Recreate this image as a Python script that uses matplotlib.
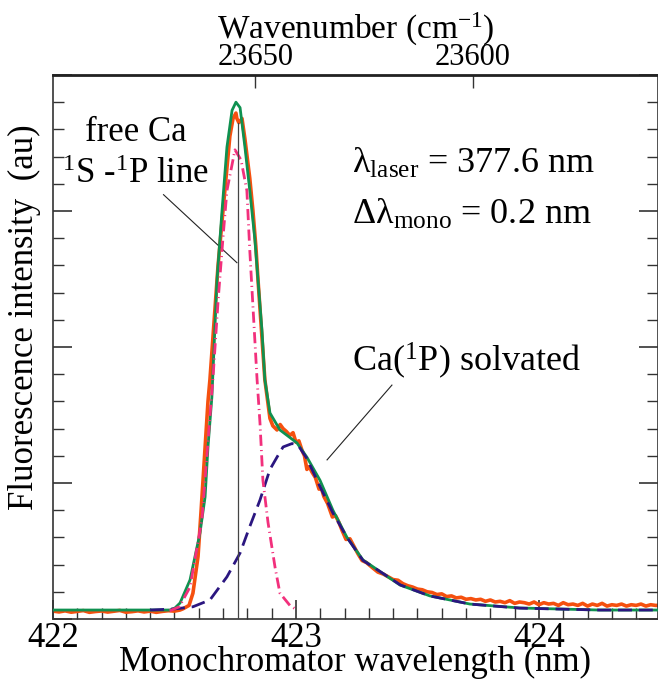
import matplotlib
matplotlib.use("Agg")
import matplotlib.pyplot as plt
from matplotlib.ticker import MultipleLocator, FixedLocator

plt.rcParams['font.family'] = ['Liberation Serif', 'DejaVu Serif']
plt.rcParams['mathtext.fontset'] = 'custom'
plt.rcParams['mathtext.rm'] = 'Liberation Serif'
plt.rcParams['mathtext.it'] = 'Liberation Serif'
plt.rcParams['mathtext.bf'] = 'Liberation Serif'

# measured spectrum (orange)
x_meas = [422.000, 422.025, 422.050, 422.075, 422.100, 422.125, 422.150, 422.175, 422.200, 422.225,
          422.250, 422.275, 422.300, 422.325, 422.350, 422.375, 422.400, 422.425, 422.450, 422.475,
          422.500, 422.523, 422.535, 422.560, 422.576, 422.597, 422.609, 422.626, 422.638, 422.646,
          422.679, 422.695, 422.712, 422.728, 422.741, 422.753, 422.757, 422.765, 422.778, 422.790,
          422.810, 422.823, 422.835, 422.844, 422.872, 422.893, 422.905, 422.922, 422.935, 422.947,
          422.960, 422.975, 422.988, 423.000, 423.012, 423.025, 423.035, 423.045, 423.055, 423.066,
          423.080, 423.095, 423.105, 423.115, 423.130, 423.150, 423.163, 423.177, 423.190, 423.206,
          423.222, 423.240, 423.255, 423.272, 423.290, 423.313, 423.337,
          423.36, 423.38, 423.40, 423.42, 423.44, 423.46, 423.48, 423.50, 423.52, 423.54,
          423.56, 423.58, 423.60, 423.62, 423.64, 423.66, 423.68, 423.70, 423.72, 423.74,
          423.76, 423.78, 423.80, 423.82, 423.84, 423.86, 423.88, 423.90, 423.92, 423.94,
          423.96, 423.98, 424.00, 424.02, 424.04, 424.06, 424.08, 424.10, 424.12, 424.14,
          424.16, 424.18, 424.20, 424.22, 424.24, 424.26, 424.28, 424.30, 424.32, 424.34,
          424.36, 424.38, 424.40, 424.42, 424.44, 424.46, 424.48, 424.50]
y_meas = [0.058, 0.052, 0.060, 0.050, 0.056, 0.062, 0.049, 0.055, 0.059, 0.051,
          0.057, 0.063, 0.050, 0.054, 0.060, 0.052, 0.058, 0.049, 0.056, 0.061,
          0.058, 0.066, 0.075, 0.100, 0.190, 0.460, 0.780, 1.260, 1.600, 1.760,
          2.590, 2.910, 3.240, 3.550, 3.680, 3.720, 3.680, 3.650, 3.680, 3.530,
          3.240, 3.000, 2.740, 2.490, 1.760, 1.475, 1.420, 1.390, 1.430, 1.400,
          1.380, 1.350, 1.370, 1.300, 1.310, 1.240, 1.200, 1.100, 1.120, 1.080,
          1.040, 0.955, 0.960, 0.900, 0.850, 0.750, 0.760, 0.710, 0.650, 0.585,
          0.590, 0.530, 0.480, 0.430, 0.415, 0.380, 0.345,
          0.330, 0.310, 0.290, 0.285, 0.260, 0.245, 0.235, 0.220, 0.215, 0.200,
          0.195, 0.180, 0.185, 0.165, 0.170, 0.155, 0.160, 0.145, 0.150, 0.140,
          0.145, 0.130, 0.140, 0.125, 0.130, 0.120, 0.135, 0.115, 0.125, 0.120,
          0.110, 0.125, 0.105, 0.120, 0.110, 0.115, 0.100, 0.120, 0.105, 0.110,
          0.100, 0.115, 0.095, 0.110, 0.100, 0.115, 0.095, 0.105, 0.100, 0.110,
          0.095, 0.105, 0.100, 0.110, 0.095, 0.105, 0.100, 0.100]

# total fit (green)
x_fit = [422.000, 422.481, 422.502, 422.523, 422.564, 422.605, 422.626, 422.638, 422.654, 422.675,
         422.695, 422.716, 422.737, 422.753, 422.770, 422.790, 422.810, 422.831, 422.844, 422.860,
         422.872, 422.893, 422.934, 423.004, 423.045, 423.099, 423.152, 423.210, 423.276, 423.337,
         423.428, 423.551, 423.716, 423.922, 424.250, 424.500]
y_fit = [0.066, 0.066, 0.081, 0.118, 0.287, 0.632, 0.897, 1.265, 1.632, 2.490,
         2.985, 3.470, 3.740, 3.800, 3.760, 3.470, 3.150, 2.790, 2.490, 2.125,
         1.760, 1.515, 1.390, 1.295, 1.190, 1.020, 0.800, 0.600, 0.434, 0.360,
         0.250, 0.170, 0.110, 0.081, 0.066, 0.066]

# free Ca line component (pink)
x_free = [422.480, 422.520, 422.564, 422.613, 422.658, 422.680, 422.700, 422.716, 422.749, 422.774,
          422.798, 422.810, 422.840, 422.852, 422.864, 422.885, 422.914, 422.934, 422.975, 423.004]
y_free = [0.060, 0.090, 0.235, 0.730, 1.760, 2.350, 2.810, 3.150, 3.450, 3.375,
          3.150, 2.710, 1.760, 1.440, 1.020, 0.710, 0.380, 0.190, 0.100, 0.066]

# solvated Ca(1P) component (purple)
x_solv = [422.400, 422.500, 422.576, 422.646, 422.716, 422.770, 422.810, 422.852, 422.893, 422.922,
          422.947, 422.984, 423.008, 423.045, 423.100, 423.152, 423.210, 423.276, 423.337, 423.430,
          423.550, 423.716, 423.920, 424.250, 424.500]
y_solv = [0.066, 0.074, 0.090, 0.140, 0.310, 0.485, 0.680, 0.875, 1.100, 1.190,
          1.265, 1.290, 1.280, 1.180, 0.970, 0.780, 0.600, 0.430, 0.360, 0.250,
          0.170, 0.110, 0.080, 0.066, 0.066]

ca_line = 422.762

fig = plt.figure(figsize=(6.58, 6.80), dpi=100)
ax = fig.add_axes([0.0805, 0.0897, 0.9195, 0.8])

ax.plot(x_meas, y_meas, color='#f5500f', lw=2.6, zorder=2)
ax.plot(x_fit, y_fit, color='#0f9150', lw=2.0, zorder=3)
ax.plot(x_solv, y_solv, color='#2b1680', lw=2.0, dashes=[5, 2.5], zorder=4)
ax.plot(x_free, y_free, color='#f2307c', lw=2.0, dashes=[4, 1.5, 0.4, 1.5], zorder=5)
ax.plot([ca_line, ca_line], [0, 3.65], color='#444444', lw=0.9, zorder=6)

ax.set_xlim(422.0, 424.49)
ax.set_ylim(0, 4)

ax.xaxis.set_major_locator(MultipleLocator(1))
ax.xaxis.set_minor_locator(MultipleLocator(0.1))
ax.yaxis.set_major_locator(MultipleLocator(1))
ax.yaxis.set_minor_locator(MultipleLocator(0.2))
ax.tick_params(axis='x', which='both', direction='in', top=False, bottom=True,
               labelsize=25, pad=2, color='#333333')
ax.tick_params(axis='y', which='both', direction='in', left=True, right=True,
               labelleft=False, color='#333333')
ax.tick_params(which='major', length=14, width=1.2)
ax.tick_params(which='minor', length=8, width=1.0)
ax.xaxis.set_major_formatter(plt.FuncFormatter(lambda v, p: '%d' % round(v)))

for s in ['left', 'right', 'bottom']:
    ax.spines[s].set_color('#333333')
    ax.spines[s].set_linewidth(1.2)
ax.spines['top'].set_color('#222222')
ax.spines['top'].set_linewidth(2.0)

ax.set_xlabel('Monochromator wavelength (nm)', fontsize=25, labelpad=-6)
ax.set_ylabel('Fluorescence intensity  (au)', fontsize=25)
ax.yaxis.set_label_coords(-0.02, 0.555)

top = ax.secondary_xaxis('top', functions=(lambda x: 1e7 / x, lambda k: 1e7 / k))
top.xaxis.set_major_locator(FixedLocator([23650, 23600]))
top.tick_params(direction='in', length=9, width=1.0, labelsize=22, pad=2, color='#333333')
top.set_xlabel('Wavenumber (cm$^{-1}$)', fontsize=24, labelpad=3)

ax.text(422.34, 3.58, 'free Ca', fontsize=25, ha='center', va='center')
ax.text(422.34, 3.27, '$^{1}$S -$^{1}$P line', fontsize=25, ha='center', va='center')
ax.plot([422.455, ca_line - 0.005], [3.12, 2.62], color='#222222', lw=0.8)

ax.text(423.23, 3.35, '$\\mathrm{λ}_{\\mathrm{laser}}$ = 377.6 nm', fontsize=26, ha='left', va='center')
ax.text(423.23, 2.97, '$\\mathrm{Δλ}_{\\mathrm{mono}}$ = 0.2 nm', fontsize=26, ha='left', va='center')

ax.text(423.23, 1.90, 'Ca($^{1}$P) solvated', fontsize=26, ha='left', va='center')
ax.plot([423.395, 423.128], [1.72, 1.17], color='#222222', lw=0.8)

fig.savefig('out.png', dpi=100)
